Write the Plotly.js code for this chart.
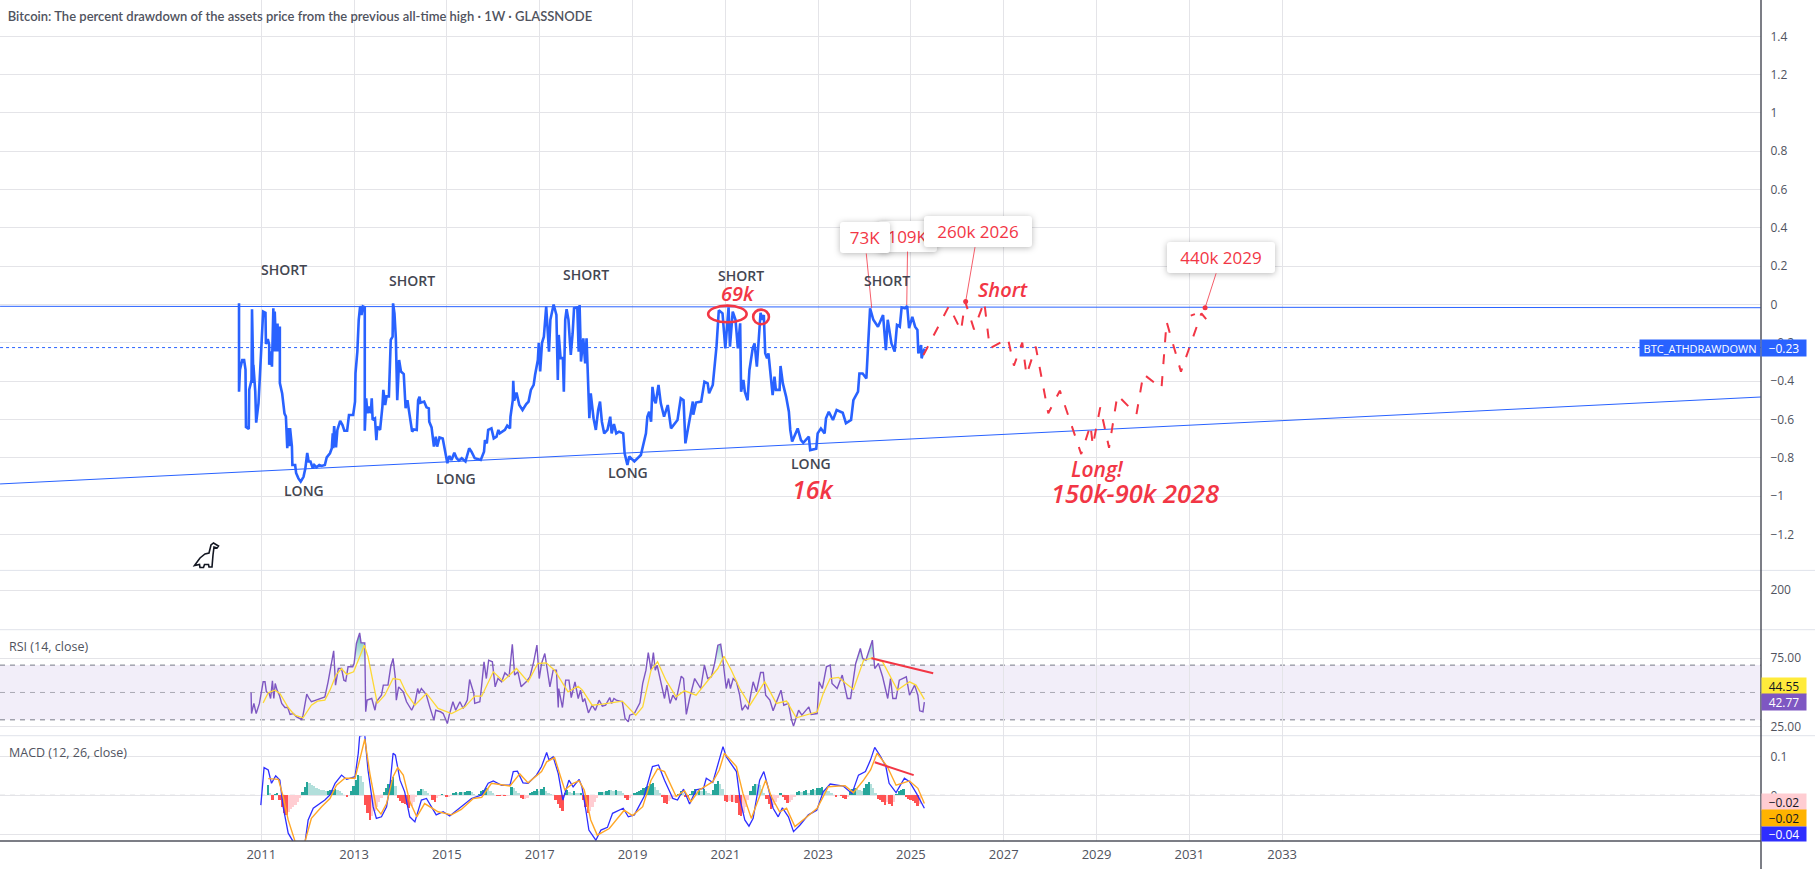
<!DOCTYPE html>
<html>
<head>
<meta charset="utf-8">
<title>BTC drawdown</title>
<script src="https://cdn.plot.ly/plotly-3.0.1.min.js"></script>
<style>
html,body{margin:0;padding:0;background:#fff;overflow:hidden}
/* callout boxes : rounded, with the soft shadow */
.annotation[data-index="0"] rect.bg,.annotation[data-index="1"] rect.bg,
.annotation[data-index="2"] rect.bg,.annotation[data-index="3"] rect.bg{
	rx:3px;ry:3px;filter:drop-shadow(0 1px 3px rgba(0,0,0,.28));
}
</style>
</head>
<body>
<div id="chart"></div>
<script>
"use strict";
//all x values are decimal years

//main pane : percent drawdown
var drawdownYears=[2010.52,2010.52,2010.54,2010.59,2010.63,2010.66,2010.67,2010.73,2010.74,2010.79,2010.80,2010.83,2010.83,2010.87,2010.89,2010.94,2010.97,2011.01,2011.04,2011.09,2011.10,2011.14,2011.17,2011.17,2011.20,2011.23,2011.26,2011.27,2011.29,2011.32,2011.35,2011.37,2011.40,2011.40,2011.45,2011.50,2011.53,2011.56,2011.58,2011.60,2011.62,2011.66,2011.67,2011.73,2011.75,2011.80,2011.85,2011.91,2011.95,2011.99,2012.02,2012.06,2012.11,2012.14,2012.19,2012.25,2012.30,2012.37,2012.41,2012.48,2012.52,2012.54,2012.55,2012.57,2012.61,2012.64,2012.70,2012.75,2012.79,2012.85,2012.89,2012.98,2013.02,2013.03,2013.07,2013.10,2013.13,2013.16,2013.19,2013.23,2013.23,2013.26,2013.29,2013.33,2013.36,2013.38,2013.40,2013.45,2013.48,2013.50,2013.56,2013.61,2013.63,2013.67,2013.70,2013.75,2013.76,2013.79,2013.83,2013.84,2013.87,2013.90,2013.93,2013.95,2013.97,2014.01,2014.07,2014.11,2014.15,2014.18,2014.22,2014.25,2014.29,2014.35,2014.38,2014.41,2014.43,2014.51,2014.56,2014.61,2014.62,2014.67,2014.72,2014.76,2014.79,2014.84,2014.91,2014.94,2014.98,2015.01,2015.05,2015.10,2015.16,2015.21,2015.26,2015.32,2015.40,2015.48,2015.53,2015.60,2015.73,2015.80,2015.82,2015.86,2015.89,2015.96,2016.01,2016.07,2016.11,2016.14,2016.25,2016.30,2016.36,2016.37,2016.42,2016.43,2016.45,2016.50,2016.56,2016.63,2016.71,2016.76,2016.81,2016.87,2016.90,2016.96,2016.98,2017.01,2017.05,2017.09,2017.14,2017.20,2017.23,2017.30,2017.36,2017.39,2017.41,2017.45,2017.50,2017.52,2017.55,2017.58,2017.62,2017.67,2017.71,2017.74,2017.81,2017.84,2017.86,2017.89,2017.94,2017.98,2018.01,2018.04,2018.07,2018.10,2018.16,2018.21,2018.26,2018.30,2018.34,2018.39,2018.46,2018.52,2018.55,2018.60,2018.65,2018.71,2018.80,2018.83,2018.89,2018.93,2019.04,2019.18,2019.22,2019.29,2019.32,2019.36,2019.40,2019.43,2019.47,2019.50,2019.56,2019.61,2019.68,2019.76,2019.83,2019.97,2020.04,2020.10,2020.14,2020.21,2020.30,2020.31,2020.37,2020.48,2020.55,2020.62,2020.65,2020.73,2020.78,2020.81,2020.86,2020.94,2021.00,2021.07,2021.10,2021.16,2021.22,2021.27,2021.32,2021.34,2021.39,2021.42,2021.48,2021.52,2021.59,2021.63,2021.68,2021.72,2021.76,2021.79,2021.83,2021.86,2021.90,2021.93,2021.98,2022.02,2022.06,2022.09,2022.17,2022.19,2022.24,2022.31,2022.37,2022.40,2022.44,2022.53,2022.56,2022.63,2022.68,2022.80,2022.83,2022.96,2022.99,2023.06,2023.14,2023.17,2023.23,2023.32,2023.40,2023.53,2023.60,2023.71,2023.76,2023.86,2023.89,2023.96,2024.04,2024.07,2024.12,2024.19,2024.29,2024.40,2024.46,2024.50,2024.58,2024.65,2024.70,2024.76,2024.80,2024.87,2024.92,2024.96,2025.03,2025.09,2025.14,2025.16,2025.22,2025.23,2025.29];
var drawdownVals=[0.006,-0.455,-0.34,-0.29,-0.29,-0.34,-0.64,-0.65,-0.445,-0.395,-0.025,-0.41,-0.315,-0.455,-0.617,-0.515,-0.36,-0.115,-0.037,-0.043,-0.206,-0.18,-0.21,-0.315,-0.245,-0.325,-0.02,-0.245,-0.037,-0.245,-0.1,-0.245,-0.115,-0.41,-0.465,-0.57,-0.585,-0.75,-0.645,-0.74,-0.645,-0.74,-0.838,-0.838,-0.88,-0.908,-0.925,-0.9,-0.855,-0.775,-0.82,-0.82,-0.855,-0.838,-0.85,-0.838,-0.843,-0.838,-0.798,-0.777,-0.75,-0.673,-0.75,-0.635,-0.746,-0.655,-0.608,-0.63,-0.659,-0.659,-0.577,-0.577,-0.507,-0.36,-0.246,-0.08,-0.008,-0.055,-0.01,-0.015,-0.659,-0.49,-0.568,-0.533,-0.568,-0.49,-0.603,-0.595,-0.708,-0.638,-0.655,-0.533,-0.446,-0.525,-0.48,-0.48,-0.377,-0.185,-0.168,0.006,-0.046,-0.177,-0.5,-0.36,-0.29,-0.35,-0.363,-0.542,-0.5,-0.55,-0.603,-0.664,-0.652,-0.655,-0.5,-0.481,-0.513,-0.507,-0.537,-0.542,-0.612,-0.642,-0.742,-0.69,-0.742,-0.694,-0.7,-0.742,-0.794,-0.829,-0.791,-0.812,-0.774,-0.803,-0.815,-0.803,-0.82,-0.751,-0.769,-0.803,-0.812,-0.769,-0.708,-0.725,-0.655,-0.647,-0.699,-0.69,-0.655,-0.673,-0.655,-0.633,-0.647,-0.586,-0.5,-0.398,-0.502,-0.46,-0.525,-0.551,-0.52,-0.507,-0.446,-0.42,-0.368,-0.29,-0.2,-0.35,-0.2,-0.168,-0.011,-0.246,-0.08,0,-0.055,-0.394,-0.159,-0.28,-0.28,-0.455,-0.08,-0.025,-0.08,-0.263,-0.15,-0.02,-0.015,-0.246,-0.003,-0.298,-0.177,-0.307,-0.177,-0.412,-0.594,-0.464,-0.594,-0.655,-0.551,-0.507,-0.612,-0.673,-0.655,-0.586,-0.673,-0.624,-0.673,-0.664,-0.673,-0.777,-0.838,-0.794,-0.82,-0.786,-0.742,-0.673,-0.586,-0.56,-0.612,-0.43,-0.5,-0.516,-0.42,-0.516,-0.586,-0.525,-0.647,-0.603,-0.49,-0.5,-0.725,-0.638,-0.507,-0.575,-0.512,-0.507,-0.403,-0.412,-0.464,-0.42,-0.307,-0.22,-0.03,-0.046,-0.229,-0.015,-0.22,-0.037,-0.08,-0.229,-0.098,-0.455,-0.394,-0.455,-0.5,-0.342,-0.229,-0.203,-0.325,-0.159,-0.043,-0.08,-0.055,-0.255,-0.281,-0.255,-0.377,-0.473,-0.377,-0.446,-0.446,-0.321,-0.412,-0.481,-0.56,-0.655,-0.716,-0.664,-0.647,-0.708,-0.722,-0.69,-0.76,-0.753,-0.673,-0.647,-0.673,-0.594,-0.56,-0.603,-0.551,-0.565,-0.62,-0.603,-0.5,-0.455,-0.36,-0.36,-0.386,-0.246,-0.02,-0.08,-0.116,-0.055,-0.238,-0.08,-0.203,-0.246,-0.107,-0.116,-0.015,-0.02,-0.008,-0.124,-0.064,-0.116,-0.133,-0.255,-0.212,-0.281,-0.23];

//hand drawn lines of the main pane
var topTrendYears=[2005.37,2043.32];
var topTrendVals=[-0.0095,-0.0168];
var lowTrendYears=[2005.37,2043.32];
var lowTrendVals=[-0.937,-0.483];
var lastDrawdown=-0.225;
var projectionYears=[2025.27,2025.82,2026.08,2026.17,2026.36,2026.58,2026.70,2027.09,2027.22,2027.40,2027.49,2027.69,2027.96,2028.21,2028.67,2028.87,2028.92,2029.08,2029.27,2029.45,2029.86,2030.01,2030.40,2030.51,2030.82,2031.26,2031.42,null,2031.03,2031.12];
var projectionVals=[-0.264,-0.008,-0.137,0.015,-0.13,0.015,-0.229,-0.177,-0.319,-0.199,-0.368,-0.22,-0.568,-0.45,-0.781,-0.629,-0.737,-0.537,-0.748,-0.473,-0.574,-0.363,-0.438,-0.09,-0.351,-0.046,-0.093,null,-0.058,-0.05];
var dotYears=[2026.18,2031.34];
var dotVals=[0.015,-0.017];

//texts of the main pane
var signalTexts=['SHORT','SHORT','SHORT','SHORT','SHORT','LONG','LONG','LONG','LONG'];
var signalYears=[2011.485,2014.24,2017.99,2021.33,2024.48,2011.92,2015.20,2018.91,2022.84];
var signalVals=[0.182,0.124,0.158,0.150,0.124,-0.969,-0.908,-0.876,-0.829];
var noteTexts=['69k','16k','Short','Long!','150k-90k 2028'];
var noteYears=[2021.28,2022.90,2026.98,2029.03,2029.83];
var noteVals=[0.055,-0.965,0.076,-0.861,-0.983];
var noteSizes=[20,25,20,21,25.5];

//rsi pane
var rsiYears=[2010.78,2010.79,2010.84,2010.89,2010.96,2011.01,2011.04,2011.08,2011.11,2011.17,2011.20,2011.24,2011.27,2011.30,2011.34,2011.39,2011.44,2011.51,2011.57,2011.62,2011.69,2011.76,2011.87,2011.90,2011.98,2012.03,2012.08,2012.18,2012.26,2012.37,2012.44,2012.51,2012.56,2012.60,2012.66,2012.73,2012.78,2012.82,2012.87,2012.97,2013.00,2013.05,2013.12,2013.15,2013.23,2013.25,2013.28,2013.38,2013.45,2013.48,2013.59,2013.63,2013.73,2013.79,2013.84,2013.89,2013.91,2013.96,2014.06,2014.13,2014.24,2014.31,2014.37,2014.40,2014.45,2014.51,2014.56,2014.63,2014.72,2014.76,2014.86,2014.92,2015.01,2015.05,2015.13,2015.19,2015.28,2015.35,2015.44,2015.49,2015.58,2015.60,2015.71,2015.75,2015.80,2015.85,2015.90,2015.98,2016.04,2016.10,2016.18,2016.25,2016.34,2016.41,2016.46,2016.53,2016.60,2016.71,2016.79,2016.87,2016.94,2016.99,2017.04,2017.11,2017.18,2017.22,2017.29,2017.36,2017.40,2017.41,2017.49,2017.56,2017.63,2017.68,2017.76,2017.83,2017.88,2017.93,2017.97,2018.05,2018.13,2018.20,2018.28,2018.35,2018.42,2018.51,2018.55,2018.60,2018.65,2018.78,2018.84,2018.91,2018.94,2019.04,2019.16,2019.22,2019.29,2019.34,2019.40,2019.45,2019.49,2019.53,2019.61,2019.69,2019.74,2019.81,2019.87,2019.94,2020.05,2020.10,2020.16,2020.23,2020.34,2020.41,2020.47,2020.55,2020.62,2020.70,2020.77,2020.84,2020.90,2020.94,2021.02,2021.07,2021.11,2021.17,2021.24,2021.31,2021.36,2021.43,2021.49,2021.60,2021.67,2021.76,2021.82,2021.87,2021.96,2022.03,2022.10,2022.20,2022.26,2022.36,2022.43,2022.47,2022.58,2022.65,2022.80,2022.85,2022.98,2023.02,2023.09,2023.18,2023.26,2023.30,2023.41,2023.52,2023.63,2023.70,2023.81,2023.91,2023.96,2024.03,2024.17,2024.22,2024.30,2024.39,2024.50,2024.56,2024.61,2024.68,2024.75,2024.90,2024.97,2025.08,2025.15,2025.19,2025.26,2025.29];
var rsiVals=[50,34.6,42,34.6,42,51.7,57.8,57.8,50.5,49.3,45.6,58.5,45.6,56.6,51.7,48,42,39,39,34,34.6,32.2,30.3,33.4,48.8,45.6,43.2,44.4,45.6,46.8,57.8,71.2,80.5,55.4,67.5,67.5,59,58.3,68.8,68.8,71.2,85.8,93.6,86.3,86.3,35.9,44.4,45.6,37,43.2,48,55.4,55.4,68.8,74.9,60.2,44.4,54.1,50.5,43.2,37,42,52.9,49.3,52.9,50.5,48,39.5,29.8,37,35.9,34.6,27.3,33.4,43.2,37,43.2,38.3,44.4,59.5,49.3,42,43.2,55.4,72.4,60.2,73.6,72.4,54.1,60.2,57.8,64.4,61.5,85.3,62.7,65.1,54.1,57.8,61.5,72.4,84.6,60.2,71.2,78.5,62.7,54.1,66.3,66.3,39,52.9,39,59,59,46.3,57.8,45.6,51.7,43.2,45.6,35.1,40.7,37,44.4,40,40.7,46.3,42,45.6,44.4,43.2,31,28.6,33.4,34.6,42.4,56.6,66.3,79.2,66.3,79.2,66.3,70,57.8,45.6,55.4,42,48,44.4,61.9,60.2,34,45.6,60.2,56.6,52.9,70,60.2,61.5,71.2,84.6,85.3,76.1,52.9,60.2,52.9,60.2,57.8,48,37,40.7,37.6,57.8,50.5,64.6,64.6,48,44.4,36.6,43.2,51.7,40.7,42,29.8,25.4,37,33.4,39.5,33.9,34.6,57.8,52.9,68.8,70,56.6,52.9,62.7,45.6,45.6,71.2,82.2,74.9,73.6,88.3,67.5,71.2,61.5,45.6,60.2,45.6,45.6,59,61.5,48,55.4,48,36.6,35.9,43];
var rsiMaYears=[2011.04,2011.15,2011.29,2011.40,2011.58,2011.72,2011.90,2012.08,2012.21,2012.37,2012.48,2012.61,2012.73,2012.84,2012.99,2013.12,2013.22,2013.30,2013.45,2013.50,2013.66,2013.84,2013.99,2014.13,2014.31,2014.56,2014.81,2015.10,2015.39,2015.60,2015.75,2016.00,2016.21,2016.50,2016.75,2016.96,2017.14,2017.32,2017.61,2017.83,2017.92,2018.13,2018.35,2018.78,2019.07,2019.22,2019.40,2019.54,2019.72,2019.94,2020.12,2020.37,2020.66,2020.84,2020.97,2021.13,2021.31,2021.53,2021.85,2022.10,2022.32,2022.53,2022.98,2023.11,2023.26,2023.44,2023.76,2023.98,2024.17,2024.39,2024.71,2024.97,2025.11,2025.29];
var rsiMaVals=[42.4,49.8,51.7,49.3,39,33.4,31.5,40.7,43.7,44.4,51.7,62.7,67.5,63.2,65.1,76.1,84.6,76.1,51.7,42,48,60.2,59.5,49.3,40.7,49.3,38.3,34.6,39.5,47.3,47.3,65.1,58.3,67.5,57.8,71.2,71.7,66.3,50.5,54.6,51.7,40.7,41.5,43.7,33.4,39.5,66.3,72.4,59,46.8,51.2,48,60.2,67.5,76.5,66.3,52.9,40.7,57.8,42,43.7,31.5,35.9,49.3,60.2,61,52.2,73.6,75.3,72.4,51.7,57.8,55.4,44.9];
//parts of the rsi above its upper band, green fill
var rsiPeakYears=[2013.00,2013.05,2013.12,2013.15,2013.23,2013.235,null,2020.76,2020.84,2020.90,2020.94,2020.99,null,2023.80,2023.91,2023.96,2024.03,2024.17,2024.21];
var rsiPeakVals=[70,85.8,93.6,86.3,86.3,70,null,70,84.6,85.3,76.1,70,null,70,82.2,74.9,73.6,88.3,70];
var rsiDivergenceYears=[2024.15,2025.48];
var rsiDivergenceVals=[75,64];

//macd pane
var macdYears=[2010.99,2011.06,2011.15,2011.22,2011.31,2011.40,2011.47,2011.58,2011.69,2011.76,2011.94,2012.01,2012.12,2012.37,2012.48,2012.59,2012.73,2012.84,2013.02,2013.09,2013.12,2013.23,2013.30,2013.41,2013.48,2013.59,2013.70,2013.77,2013.84,2013.89,2013.99,2014.09,2014.20,2014.31,2014.45,2014.56,2014.77,2014.92,2015.06,2015.28,2015.53,2015.75,2015.89,2016.00,2016.18,2016.36,2016.43,2016.52,2016.64,2016.75,2016.93,2017.04,2017.15,2017.20,2017.29,2017.40,2017.50,2017.63,2017.72,2017.85,2017.91,2018.00,2018.06,2018.21,2018.32,2018.46,2018.57,2018.80,2018.91,2019.04,2019.25,2019.43,2019.56,2019.69,2019.87,2019.97,2020.10,2020.23,2020.37,2020.53,2020.59,2020.73,2020.84,2020.95,2021.02,2021.24,2021.32,2021.42,2021.51,2021.60,2021.74,2021.83,2021.92,2022.03,2022.14,2022.23,2022.36,2022.47,2022.61,2022.79,2022.97,2023.11,2023.26,2023.54,2023.73,2023.87,2024.02,2024.13,2024.22,2024.35,2024.46,2024.53,2024.68,2024.86,2024.97,2025.12,2025.29];
var macdVals=[-0.025,0.071,0.065,0.031,0.05,0.039,-0.029,-0.097,-0.119,-0.166,-0.123,-0.063,-0.033,-0.012,0.001,0.031,0.052,0.041,0.048,0.108,0.152,0.155,0.065,-0.029,-0.059,-0.055,-0.029,0.022,0.108,0.103,0.039,0.009,-0.055,-0.068,-0.012,-0.008,-0.05,-0.042,-0.053,-0.033,-0.008,0.001,0.031,0.037,0.026,0.026,0.061,0.062,0.032,0.031,0.052,0.074,0.11,0.091,0.099,0.056,-0.012,0.039,0.022,0.041,0.022,-0.042,-0.089,-0.115,-0.089,-0.082,-0.046,-0.033,-0.055,-0.05,-0.003,0.074,0.078,0.039,-0.008,-0.012,0.016,-0.022,0.014,0.018,0.044,0.033,0.082,0.125,0.099,0.061,-0.012,-0.063,-0.079,-0.059,0.039,0.061,0.022,-0.033,-0.055,-0.032,-0.055,-0.093,-0.076,-0.05,-0.038,0.009,0.029,0.024,0.005,0.052,0.061,0.091,0.123,0.099,0.074,0.031,0.007,0.044,0.035,0.005,-0.033];
var signalLineYears=[2011.15,2011.37,2011.47,2011.58,2011.73,2011.94,2012.08,2012.30,2012.48,2012.62,2012.80,2013.02,2013.12,2013.23,2013.34,2013.48,2013.58,2013.70,2013.84,2013.94,2014.06,2014.20,2014.35,2014.52,2014.81,2015.10,2015.31,2015.57,2015.75,2015.96,2016.36,2016.57,2016.75,2017.04,2017.15,2017.32,2017.54,2017.72,2017.85,2017.96,2018.10,2018.24,2018.50,2018.82,2019.00,2019.22,2019.40,2019.54,2019.69,2019.94,2020.12,2020.26,2020.44,2020.73,2020.87,2020.98,2021.24,2021.38,2021.56,2021.71,2021.87,2021.99,2022.17,2022.32,2022.50,2022.82,2022.98,2023.22,2023.58,2023.76,2023.98,2024.13,2024.27,2024.49,2024.68,2024.97,2025.15,2025.29];
var signalLineVals=[0.043,0.041,-0.003,-0.063,-0.119,-0.119,-0.059,-0.029,-0.008,0.026,0.044,0.044,0.091,0.144,0.056,-0.033,-0.048,-0.021,0.048,0.071,0.052,-0.016,-0.055,-0.021,-0.042,-0.05,-0.036,-0.008,-0.005,0.031,0.024,0.055,0.032,0.061,0.086,0.097,0.014,0.031,0.037,0.014,-0.063,-0.102,-0.085,-0.038,-0.052,-0.029,0.039,0.068,0.061,-0.003,0.012,-0.016,0.014,0.035,0.065,0.108,0.074,0.005,-0.059,-0.012,0.039,-0.003,-0.042,-0.033,-0.08,-0.049,-0.033,0.022,0.025,0.007,0.039,0.065,0.108,0.074,0.026,0.037,0.018,-0.021];
var histStartYear=2011.14, histStep=0.05;
var histVals=[0.026,0.006,-0.012,0.004,0.005,-0.012,-0.03,-0.045,-0.05,-0.042,-0.036,-0.03,-0.024,-0.016,-0.006,0.008,0.022,0.034,0.031,0.026,0.023,0.02,0.017,0.015,0.013,0.011,0.012,0.013,0.015,0.016,0.013,0.01,0.005,0,-0.004,0.002,0.012,0.025,0.04,0.052,0.05,0.035,-0.025,-0.045,-0.062,-0.052,-0.04,-0.03,-0.018,-0.006,0.008,0.02,0.03,0.04,0.048,0.025,-0.006,-0.014,-0.019,-0.022,-0.025,-0.032,-0.026,-0.016,-0.004,0.012,0.017,0.017,0.012,0.007,0.002,-0.012,-0.016,-0.007,-0.002,0.004,0.002,-0.004,-0.003,-0.001,0.006,0.008,0.007,0.009,0.008,0.009,0.01,0.011,0.008,0.004,0.001,0.004,0.012,0.015,0.018,0.016,0.012,0.006,0.001,-0.001,-0.002,-0.001,-0.002,-0.001,0.001,0.022,0.018,0.012,0.006,-0.008,-0.01,-0.009,-0.006,0.006,0.008,0.011,0.016,0.012,0.016,0.021,0.012,0.007,0.004,0.001,-0.012,-0.022,-0.032,-0.04,0.006,0.014,0.009,0.006,0.012,0.006,0.006,0.007,-0.012,-0.03,-0.045,-0.04,-0.03,-0.018,-0.006,0.008,0.009,0.008,0.012,0.015,0.014,0.012,0.013,0.012,0.01,0.006,-0.006,-0.012,-0.006,-0.002,0.005,0.008,0.012,0.015,0.018,0.022,0.025,0.03,0.032,0.022,0.014,0.006,-0.005,-0.02,-0.022,-0.014,-0.01,-0.005,-0.001,0.004,0.012,0.005,-0.004,-0.005,0.004,0.012,0.016,0.012,0.014,0.012,0.016,0.012,0.007,0.003,0.014,0.028,0.037,0.03,0.016,-0.014,-0.017,-0.014,-0.018,-0.016,-0.02,-0.05,-0.052,-0.045,-0.03,-0.012,0.012,0.024,0.03,0.028,0.026,0.016,0.006,-0.01,-0.022,-0.034,-0.024,-0.016,-0.006,0.005,-0.004,-0.012,-0.02,-0.018,-0.012,-0.004,0.009,0.01,0.008,0.012,0.014,0.006,0.014,0.016,0.015,0.018,0.02,0.021,0.014,0.012,0.01,0.006,0.002,-0.003,0.002,-0.001,-0.006,-0.01,-0.004,0.012,0.016,0.02,0.017,0.014,0.01,0.018,0.028,0.034,0.028,0.018,0.006,-0.01,-0.012,-0.018,-0.024,-0.018,-0.022,-0.026,-0.016,0.004,0.01,0.014,0.016,-0.004,-0.01,-0.012,-0.014,-0.02,-0.028,-0.022];
var macdDivergenceYears=[2024.22,2025.06];
var macdDivergenceVals=[0.085,0.052];

//axis ticks
var xTicks=[2011,2013,2015,2017,2019,2021,2023,2025,2027,2029,2031,2033];
var mainTicks=[1.4,1.2,1,0.8,0.6,0.4,0.2,0,-0.2,-0.4,-0.6,-0.8,-1,-1.2];

//pane limits, in pixels from the top of the page
var W=1815, H=869, PLOT_W=1761, PLOT_H=841;
var PANE_MAIN=570.4, PANE_GAP=629.7, PANE_RSI=735.7;
function py(y){ //page pixel to paper y
	return (PLOT_H-y)/PLOT_H;
}
function px(x){ //page pixel to paper x
	return x/PLOT_W;
}

var COL_BLUE='#2962FF', COL_RED='#F23645', COL_GRID='#E4E4E8', COL_TEXT='#50535E', COL_DASH='#787B86';
var FONT='"Open Sans", sans-serif';

//histogram colors depend on the direction of the bars
function histColor(val, i){
	var prev=(i===0)?0:histVals[i-1];
	if (val>=0) return (val>prev)?'#26A69A':'#B2DFDB';
	return (val<prev)?'#FF5252':'#FFCDD2';
}

function line(xs, ys, color, width, yaxis, dash){
	return {
		x: xs, y: ys, yaxis: yaxis, type: 'scatter', mode: 'lines', hoverinfo: 'skip',
		line: {color: color, width: width, dash: dash||'solid'},
		connectgaps: false
	};
}

var traces=[
	{x: [], y: [], yaxis: 'y4', type: 'scatter'}, //keeps the empty pane alive
	line(topTrendYears, topTrendVals, COL_BLUE, 1, 'y'),
	line(lowTrendYears, lowTrendVals, COL_BLUE, 1, 'y'),
	line(topTrendYears, [lastDrawdown,lastDrawdown], COL_BLUE, 1, 'y', 'dot'),
	line(drawdownYears, drawdownVals, COL_BLUE, 2.6, 'y'),
	line(projectionYears, projectionVals, COL_RED, 2, 'y', '10px,12px'),
	{x: dotYears, y: dotVals, yaxis: 'y', type: 'scatter', mode: 'markers', marker: {color: COL_RED, size: 5}},
	{
		x: rsiPeakYears, y: rsiPeakVals, yaxis: 'y2', type: 'scatter', mode: 'none', fill: 'toself',
		fillgradient: {type: 'vertical', colorscale: [[0,'rgba(38,166,154,0)'],[1,'rgba(38,166,154,0.75)']]}
	},
	line(rsiYears, rsiVals, '#7E57C2', 1.4, 'y2'),
	line(rsiMaYears, rsiMaVals, '#FDD835', 1.3, 'y2'),
	line(rsiDivergenceYears, rsiDivergenceVals, COL_RED, 2, 'y2'),
	{
		x: histVals.map(function(v,i){return histStartYear+i*histStep;}), y: histVals, yaxis: 'y3',
		type: 'bar', width: histStep, marker: {color: histVals.map(histColor), line: {width: 0}}, hoverinfo: 'skip'
	},
	line(macdYears, macdVals, '#2E2EFF', 1.3, 'y3'),
	line(signalLineYears, signalLineVals, '#FFA726', 1.4, 'y3'),
	line(macdDivergenceYears, macdDivergenceVals, COL_RED, 2, 'y3')
];

//callouts, they must stay first in the list (see the style tag)
function callout(text, year, val, ax, ay, width){
	return {
		text: text, x: year, y: val, xref: 'x', yref: 'y', ax: ax, ay: ay, showarrow: true,
		arrowhead: 0, arrowwidth: 1, arrowcolor: 'rgba(242,54,69,.8)', standoff: 0,
		width: width, height: 29, bgcolor: '#fff', borderwidth: 0,
		font: {family: FONT, size: 17, color: COL_RED, weight: 500}
	};
}
function priceTag(text, y, yref, bg, color, height){
	return {
		text: text, x: 1, xref: 'paper', y: y, yref: yref, xanchor: 'left', yanchor: 'middle', showarrow: false,
		width: 44, height: height||16, bgcolor: bg, borderpad: 0, align: 'center',
		font: {family: FONT, size: 12, color: color}
	};
}

var annotations=[
	callout('109K', 2024.91, -0.003, 1, -69, 57),
	callout('73K', 2024.155, -0.018, -7, -70, 48),
	callout('260k 2026', 2026.18, 0.015, 12, -70, 106),
	callout('440k 2029', 2031.34, -0.017, 16, -50, 106)
];
signalTexts.forEach(function(text, i){
	annotations.push({
		text: text, x: signalYears[i], y: signalVals[i], xref: 'x', yref: 'y', showarrow: false,
		font: {family: FONT, size: 14, color: '#434651', weight: 600}
	});
});
noteTexts.forEach(function(text, i){
	annotations.push({
		text: text, x: noteYears[i], y: noteVals[i], xref: 'x', yref: 'y', showarrow: false,
		font: {family: FONT, size: noteSizes[i], color: COL_RED, style: 'italic', weight: 600}
	});
});
annotations.push(
	{
		text: 'BTC_ATHDRAWDOWN', x: 1, xref: 'paper', y: lastDrawdown, yref: 'y', xanchor: 'right', yanchor: 'middle',
		showarrow: false, width: 120, height: 16, bgcolor: COL_BLUE, borderpad: 0,
		font: {family: FONT, size: 11, color: '#fff'}
	},
	priceTag('\u22120.23', lastDrawdown, 'y', COL_BLUE, '#fff'),
	priceTag('44.55', 54.9, 'y2', '#FFEB3B', '#131722'),
	priceTag('42.77', 42.77, 'y2', '#7E57C2', '#fff'),
	priceTag('\u22120.02', -0.016, 'y3', '#FFCDD2', '#131722'),
	priceTag('\u22120.02', -0.058, 'y3', '#FFB300', '#131722'),
	priceTag('\u22120.04', -0.099, 'y3', '#2E2EFF', '#fff', 14),
	{
		text: 'RSI (14, close)', x: px(7), xref: 'paper', y: py(646.7), yref: 'paper', xanchor: 'left', yanchor: 'middle', showarrow: false,
		font: {family: FONT, size: 12.5, color: COL_TEXT}
	},
	{
		text: 'MACD (12, 26, close)', x: px(7), xref: 'paper', y: py(752.7), yref: 'paper', xanchor: 'left', yanchor: 'middle', showarrow: false,
		font: {family: FONT, size: 12.5, color: COL_TEXT}
	}
);

function paperLine(x0, y0, x1, y1, color, width){
	return {type: 'line', xref: 'paper', yref: 'paper', x0: x0, y0: y0, x1: x1, y1: y1, line: {color: color, width: width}};
}
function bandLine(val, yref, alpha){
	return {type: 'line', xref: 'paper', yref: yref, x0: 0, x1: 1, y0: val, y1: val, layer: 'below', line: {color: 'rgba(120,123,134,'+alpha+')', width: 1, dash: '5px,5px'}};
}

var shapes=[
	{type: 'rect', xref: 'paper', yref: 'y2', x0: 0, x1: 1, y0: 30, y1: 70, layer: 'below', fillcolor: 'rgba(126,87,194,.1)', line: {width: 0}},
	bandLine(70, 'y2', 1), bandLine(50, 'y2', 0.6), bandLine(30, 'y2', 1), bandLine(0, 'y3', 0.7),
	//pane separators and the price scale border
	paperLine(0, py(PANE_MAIN), W/PLOT_W, py(PANE_MAIN), '#E0E3EB', 1),
	paperLine(0, py(PANE_GAP), W/PLOT_W, py(PANE_GAP), '#E0E3EB', 1),
	paperLine(0, py(PANE_RSI), W/PLOT_W, py(PANE_RSI), '#E0E3EB', 1),
	paperLine(0, 0, 1, 0, COL_TEXT, 1.5),
	paperLine(1, py(H), 1, 1, COL_TEXT, 1.5),
	//circled tops
	{type: 'circle', xref: 'x', yref: 'y', x0: 2020.63, x1: 2021.46, y0: -0.093, y1: -0.006, line: {color: COL_RED, width: 2.6}},
	{type: 'circle', xref: 'x', yref: 'y', x0: 2021.60, x1: 2021.94, y0: -0.103, y1: -0.027, line: {color: COL_RED, width: 2.6}},
	//dino logo
	{
		type: 'path', xref: 'paper', yref: 'paper', xsizemode: 'pixel', ysizemode: 'pixel', xanchor: px(185), yanchor: py(575),
		path: 'M9.5,9.5 L15,17 L20,21 L24,22 L26,30 L28.5,32 L33.5,29 L32,27 L29,28 L28,20 L27,8 L24,8 L23.5,10.5 L19.5,10.5 L18.5,7.5 L15,7.5 L14.5,10.5 Z',
		line: {color: '#131722', width: 1.6}, fillcolor: 'rgba(0,0,0,0)'
	}
];

function yAxis(domain, range, ticks, format){
	return {
		domain: domain, range: range, side: 'right', anchor: 'x', tickmode: 'array', tickvals: ticks,
		tickformat: format||'', showgrid: true, gridcolor: COL_GRID, gridwidth: 1, zeroline: false, showline: false,
		ticks: 'outside', ticklen: 6, tickcolor: 'rgba(0,0,0,0)',
		tickfont: {family: FONT, size: 12, color: COL_TEXT}
	};
}

var layout={
	width: W, height: H,
	margin: {l: 0, r: W-PLOT_W, t: 0, b: H-PLOT_H},
	paper_bgcolor: '#fff', plot_bgcolor: '#fff',
	showlegend: false, hovermode: false, barmode: 'overlay', bargap: 0,
	title: {
		text: 'Bitcoin: The percent drawdown of the assets price from the previous all-time high \u00b7 1W \u00b7 GLASSNODE',
		x: 8/W, xanchor: 'left', xref: 'paper', y: 1-16/H, yanchor: 'middle', yref: 'container',
		font: {family: '"Lato", sans-serif', size: 13, color: COL_TEXT, weight: 600}
	},
	xaxis: {
		range: [2005.369, 2043.32], tickmode: 'array', tickvals: xTicks, showgrid: true, gridcolor: COL_GRID, gridwidth: 1,
		zeroline: false, showline: false, anchor: 'y3', ticks: 'outside', ticklen: 1, tickcolor: 'rgba(0,0,0,0)',
		tickfont: {family: FONT, size: 13, color: COL_TEXT}
	},
	yaxis: yAxis([py(PANE_MAIN), 1], [-1.3885, 1.59], mainTicks),
	yaxis4: yAxis([py(PANE_GAP), py(PANE_MAIN)], [0, 300], [200]),
	yaxis2: yAxis([py(PANE_RSI), py(PANE_GAP)], [18.4, 95.9], [75, 25], '.2f'),
	yaxis3: yAxis([0, py(PANE_RSI)], [-0.117, 0.153], [0.1, 0, -0.1]),
	shapes: shapes,
	annotations: annotations
};

Plotly.newPlot('chart', traces, layout, {displayModeBar: false, staticPlot: true});
</script>
</body>
</html>
